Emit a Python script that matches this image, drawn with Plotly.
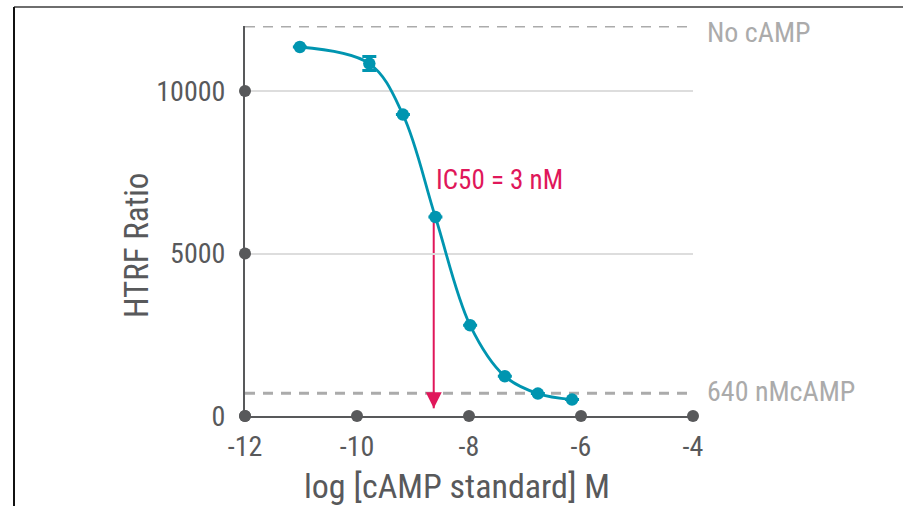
import plotly.graph_objects as go

# ---- data ----
log_conc = [-11.02, -9.78, -9.18, -8.60, -7.98, -7.36, -6.77, -6.16]
htrf_ratio = [11354, 10843, 9274, 6123, 2791, 1222, 689, 505]
htrf_err = [0, 215, 0, 0, 0, 0, 0, 0]

x_ticks = [-12, -10, -8, -6, -4]
y_ticks = [0, 5000, 10000]
y_tick_labels = ["0", "5000", "10000"]

no_camp_level = 12000
max_camp_level = 700
ref_labels = ["No cAMP", "640 nMcAMP"]

ic50_log = -8.63
ic50_start = 6123
ic50_tip = 237
ic50_text = "IC50 = 3 nM"

x_title = "log [cAMP standard] M"
y_title = "HTRF Ratio"

x_range = [-12, -4]
y_range = [0, 12000]

# ---- styles ----
FONT = "Roboto Condensed, Liberation Sans Narrow, DejaVu Sans Condensed, Roboto, sans-serif"
TEAL = "#0095b0"
AXIS = "#58595b"
LIGHT = "#ababab"
MAGENTA = "#e0175a"

W, H = 903, 506
ML, MR, MT, MB = 245, 210, 26, 90
pw = W - ML - MR
ph = H - MT - MB

fig = go.Figure()

# fitted curve + points
fig.add_trace(go.Scatter(
    x=log_conc, y=htrf_ratio, mode="lines+markers",
    line=dict(color=TEAL, width=2.8, shape="spline", smoothing=1.0),
    marker=dict(color=TEAL, size=12.5),
    error_y=dict(type="data", array=htrf_err, visible=True, color=TEAL, thickness=3, width=7),
    cliponaxis=False, showlegend=False, hoverinfo="skip",
))

# tick dots
fig.add_trace(go.Scatter(
    x=x_ticks, y=[y_range[0]] * len(x_ticks), mode="markers",
    marker=dict(color=AXIS, size=12), cliponaxis=False, showlegend=False, hoverinfo="skip",
))
fig.add_trace(go.Scatter(
    x=[x_range[0]] * len(y_ticks), y=y_ticks, mode="markers",
    marker=dict(color=AXIS, size=12), cliponaxis=False, showlegend=False, hoverinfo="skip",
))

shapes = []
# reference dashed lines
for lvl in (no_camp_level, max_camp_level):
    shapes.append(dict(type="line", xref="x", yref="y", x0=x_range[0], x1=x_range[1], y0=lvl, y1=lvl,
                       line=dict(color=LIGHT, width=3, dash="10px,8px"), layer="below"))
# IC50 arrow line
shapes.append(dict(type="line", xref="x", yref="y", x0=ic50_log, x1=ic50_log, y0=ic50_start, y1=ic50_tip,
                   line=dict(color=MAGENTA, width=2), layer="below"))
# arrow head
shapes.append(dict(type="path", xref="x", yref="y", xsizemode="pixel", ysizemode="pixel",
                   xanchor=ic50_log, yanchor=ic50_tip, path="M-8,16 L8,16 L0,0 Z",
                   fillcolor=MAGENTA, line=dict(color=MAGENTA, width=0)))
# frame lines (page border)
fx0 = (14 - ML) / pw
fx1 = (W - ML) / pw
fy_top = (H - MB - 7) / ph
fy_bot = (H - MB - H) / ph
shapes.append(dict(type="line", xref="paper", yref="paper", x0=fx0, x1=fx1, y0=fy_top, y1=fy_top,
                   line=dict(color="#6e6e6e", width=2)))
shapes.append(dict(type="line", xref="paper", yref="paper", x0=fx0, x1=fx0, y0=fy_top, y1=fy_bot,
                   line=dict(color="#111111", width=2)))

annotations = [
    dict(x=x_range[1], y=no_camp_level, xref="x", yref="y", text=ref_labels[0], showarrow=False,
         xanchor="left", yanchor="middle", xshift=12, yshift=-6, font=dict(family=FONT, size=28, color=LIGHT)),
    dict(x=x_range[1], y=max_camp_level, xref="x", yref="y", text=ref_labels[1], showarrow=False,
         xanchor="left", yanchor="middle", xshift=12, yshift=2, font=dict(family=FONT, size=28, color=LIGHT)),
    dict(x=ic50_log, y=ic50_start, xref="x", yref="y", text=ic50_text, showarrow=False,
         xanchor="left", yanchor="middle", xshift=0, yshift=37, font=dict(family=FONT, size=27, color=MAGENTA)),
    # axis titles
    dict(x=0.5, y=0, xref="paper", yref="paper", text=x_title, showarrow=False,
         xanchor="center", yanchor="middle", xshift=-12, yshift=-70, font=dict(family=FONT, size=34, color=AXIS)),
    dict(x=0, y=0.5, xref="paper", yref="paper", text=y_title, showarrow=False, textangle=-90,
         xanchor="center", yanchor="middle", xshift=-109, yshift=-25, font=dict(family=FONT, size=33, color=AXIS)),
]

fig.update_layout(
    width=W, height=H, autosize=False,
    margin=dict(l=ML, r=MR, t=MT, b=MB, pad=0, autoexpand=False),
    paper_bgcolor="white", plot_bgcolor="white",
    font=dict(family=FONT, color=AXIS, size=28),
    shapes=shapes, annotations=annotations,
    xaxis=dict(range=x_range, tickvals=x_ticks, ticktext=[str(v) for v in x_ticks],
               showline=True, linecolor=AXIS, linewidth=2, showgrid=False, zeroline=False,
               ticks="", ticklabelstandoff=4, automargin=False,
               tickfont=dict(family=FONT, size=28, color=AXIS)),
    yaxis=dict(range=y_range, tickvals=y_ticks, ticktext=y_tick_labels,
               showline=True, linecolor=AXIS, linewidth=2, showgrid=True, gridcolor="#dddddd", gridwidth=1.5,
               zeroline=False, ticks="", ticklabelstandoff=12, automargin=False,
               tickfont=dict(family=FONT, size=28, color=AXIS)),
)

fig.write_html("out.html", config={"displayModeBar": False, "responsive": False},
               post_script="document.body.style.margin='0px';document.body.style.padding='0px';")
